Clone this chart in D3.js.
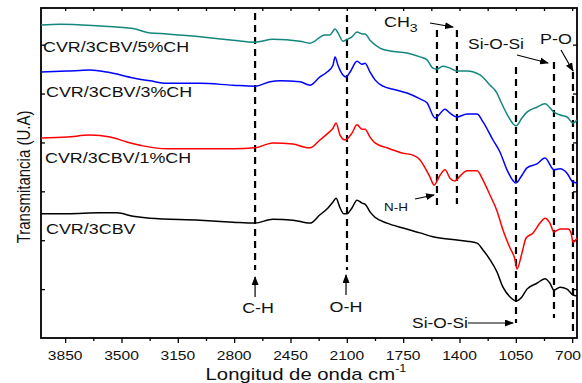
<!DOCTYPE html>
<html>
<head>
<meta charset="utf-8">
<script src="https://cdn.jsdelivr.net/npm/d3@7"></script>
<style>
  body { margin: 0; background: #fff; }
  svg { display: block; font-family: "Liberation Sans", Arial, sans-serif; }
</style>
</head>
<body>
<div id="chart"></div>
<script>
// [wavenumber cm-1, transmittance (U.A, curves stacked)]
const ch5 = [[4000,64.0],[3882,64.2],[3633,63.8],[3428,63.3],[3323,62.4],[3217,62.2],[3012,61.6],[2807,60.9],
  [2670,60.5],[2559,61.1],[2391,60.7],[2329,60.3],[2236,62.0],[2205,62.0],[2173,63.2],[2155,62.4],[2124,60.7],
  [2099,61.1],[2068,61.6],[2037,62.6],[2006,62.2],[1987,62.2],[1956,60.9],[1894,59.3],[1832,58.7],[1726,58.3],
  [1645,57.5],[1602,56.9],[1565,55.2],[1540,55.0],[1503,55.6],[1459,55.2],[1416,54.6],[1353,54.6],[1273,53.8],
  [1210,51.7],[1167,50.1],[1148,48.7],[1105,45.8],[1049,43.4],[1012,45.0],[981,46.2],[919,47.2],[869,47.9],
  [813,46.2],[775,45.6],[732,45.2],[695,44.0],[670,44.6]];
const ch3 = [[4000,54.4],[3838,54.6],[3696,54.8],[3590,54.4],[3428,53.2],[3323,52.6],[3217,52.1],[3012,52.1],
  [2807,51.7],[2670,51.5],[2577,52.4],[2515,52.6],[2391,52.4],[2329,51.7],[2267,53.4],[2223,54.4],[2186,55.8],
  [2173,57.5],[2155,55.8],[2124,53.8],[2105,53.4],[2080,54.4],[2037,56.6],[2006,56.0],[1987,56.2],[1956,54.4],
  [1925,52.8],[1875,51.5],[1813,50.9],[1726,50.1],[1645,48.9],[1602,48.1],[1552,45.0],[1490,46.8],[1459,46.0],
  [1416,45.2],[1353,45.8],[1291,45.8],[1254,44.2],[1192,40.5],[1148,38.0],[1105,34.4],[1049,31.7],[1012,33.3],
  [981,34.8],[919,35.6],[869,36.8],[813,34.4],[775,34.6],[732,33.7],[695,31.9],[670,31.7]];
const ch1 = [[4000,40.9],[3838,41.1],[3696,41.5],[3571,41.1],[3466,40.1],[3366,39.3],[3217,38.7],[3012,38.7],
  [2807,38.7],[2670,38.9],[2559,39.9],[2434,39.7],[2372,39.1],[2329,38.9],[2267,40.5],[2217,41.9],[2186,42.9],
  [2167,44.0],[2142,41.5],[2111,40.5],[2099,40.7],[2068,41.9],[2037,43.6],[2006,42.7],[1987,42.7],[1956,41.1],
  [1925,39.9],[1850,38.9],[1751,37.8],[1689,37.4],[1645,36.4],[1614,34.8],[1583,32.9],[1558,31.3],[1521,33.3],
  [1490,34.4],[1459,32.7],[1428,32.1],[1397,33.1],[1353,34.2],[1291,34.2],[1254,32.3],[1210,29.2],[1167,26.0],
  [1130,22.1],[1086,18.4],[1055,16.0],[1043,14.1],[1012,17.4],[987,20.4],[943,21.5],[900,23.5],[869,24.5],
  [838,23.5],[813,21.7],[775,22.3],[726,22.3],[707,21.5],[695,19.6],[670,20.4]];
const ch0 = [[4000,25.4],[3838,25.4],[3633,25.6],[3528,25.6],[3428,24.9],[3323,24.5],[3012,24.1],[2807,23.7],
  [2670,23.5],[2559,24.3],[2434,24.1],[2329,23.5],[2267,25.2],[2217,26.6],[2186,27.8],[2167,28.6],[2142,26.6],
  [2118,25.4],[2099,25.4],[2068,26.6],[2037,28.2],[2006,27.6],[1987,27.4],[1956,25.8],[1925,24.7],[1850,23.5],
  [1751,22.5],[1645,21.5],[1565,20.7],[1459,20.2],[1353,19.8],[1291,19.4],[1254,18.0],[1210,16.0],[1167,13.5],
  [1130,10.4],[1086,8.4],[1049,7.6],[1012,8.4],[981,10.0],[919,11.2],[869,12.1],[838,11.2],[813,9.8],
  [775,10.4],[732,10.0],[695,8.8],[670,8.6]];

const seriesNames = ["CVR/3CBV/5%CH", "CVR/3CBV/3%CH", "CVR/3CBV/1%CH", "CVR/3CBV"];
const seriesData = [ch5, ch3, ch1, ch0];
const seriesColors = ["#13877e", "#0000ff", "#ff0000", "#000000"];

const xTicks = [3850, 3500, 3150, 2800, 2450, 2100, 1750, 1400, 1050, 700];
const xMinor = [3675, 3325, 2975, 2625, 2275, 1925, 1575, 1225, 875];
const yTicks = [10, 20, 30, 40, 50, 60];
const bands = [2670, 2099, 1540, 1416, 1049, 813, 695];

var W = 582, H = 383;
var svg = d3.select("#chart").append("svg").attr("width", W).attr("height", H);

var x = d3.scaleLinear().domain([4000, 670]).range([41, 577]);
var y = d3.scaleLinear().domain([0, 67.5]).range([338, 8]);

// stretched text helper (the original figure is wider than tall)
function txt(px, py, s, size, anchor, sx) {
    return svg.append("text")
        .attr("transform", "translate(" + px + "," + py + ") scale(" + (sx || 1.28) + ",1)")
        .attr("text-anchor", anchor || "start")
        .style("font-size", size + "px")
        .attr("fill", "#111")
        .text(s);
}

// arrow head
svg.append("defs").append("marker")
    .attr("id", "arr").attr("markerUnits", "userSpaceOnUse")
    .attr("markerWidth", 9).attr("markerHeight", 7)
    .attr("refX", 8).attr("refY", 3.5).attr("orient", "auto")
    .append("path").attr("d", "M0,0 L9,3.5 L0,7 Z").attr("fill", "#000");

// axes
svg.append("g").attr("transform", "translate(0,338)")
    .call(d3.axisBottom(x).tickValues(xTicks).tickSize(5).tickFormat(""));
svg.append("g").attr("transform", "translate(0,338)")
    .call(d3.axisBottom(x).tickValues(xMinor).tickSize(3).tickFormat(""));
svg.append("g").attr("transform", "translate(0,8)")
    .call(d3.axisTop(x).tickValues(xTicks.concat(xMinor)).tickSize(-3).tickFormat(""));
svg.append("g").attr("transform", "translate(41,0)")
    .call(d3.axisLeft(y).tickValues(yTicks).tickSize(-4).tickFormat(""));
svg.append("g").attr("transform", "translate(577,0)")
    .call(d3.axisRight(y).tickValues(yTicks).tickSize(-4).tickFormat(""));
svg.selectAll(".domain").remove();
svg.selectAll(".tick line").attr("stroke", "#000").attr("stroke-width", 1.3);

svg.append("rect").attr("x", 41).attr("y", 8).attr("width", 536).attr("height", 330)
    .attr("fill", "none").attr("stroke", "#000").attr("stroke-width", 1.8);

xTicks.forEach(function (t) {
    // last label sits against the right edge, like the original
    if (t === 700) txt(581, 360, t, 13, "end", 1.2);
    else txt(x(t), 360, t, 13, "middle", 1.2);
});

// axis titles
var xl = svg.append("text")
    .attr("transform", "translate(306,380) scale(1.27,1)")
    .attr("text-anchor", "middle").style("font-size", "16px").attr("fill", "#111");
xl.append("tspan").text("Longitud de onda cm");
xl.append("tspan").attr("dy", -8).style("font-size", "10px").text("-1");

svg.append("text")
    .attr("transform", "translate(30,177) scale(1.28,1) rotate(-90)")
    .attr("text-anchor", "middle").style("font-size", "15px").attr("fill", "#111")
    .text("Transmitancia (U.A)");

// band markers
var bandTop = [13, 15, 30, 30, 67, 62, 72];
var bandBottom = [270, 270, 205, 204, 323, 318, 333];
svg.selectAll(".band").data(bands).enter().append("line")
    .attr("class", "band")
    .attr("x1", function (d) { return x(d); })
    .attr("x2", function (d) { return x(d); })
    .attr("y1", function (d, i) { return bandTop[i]; })
    .attr("y2", function (d, i) { return bandBottom[i]; })
    .attr("stroke", "#000").attr("stroke-width", 2.2)
    .attr("stroke-dasharray", "7,5");

// spectra
var line = d3.line()
    .x(function (d) { return x(d[0]); })
    .y(function (d) { return y(d[1]); })
    .curve(d3.curveMonotoneX);

seriesData.forEach(function (s, i) {
    svg.append("path").datum(s)
        .attr("d", line)
        .attr("fill", "none")
        .attr("stroke", seriesColors[i])
        .attr("stroke-width", 1.5);
});

// curve labels
var labelPos = [[43, 52], [46, 97], [45, 163], [46, 234]];
seriesNames.forEach(function (n, i) {
    txt(labelPos[i][0], labelPos[i][1], n, 14, "start", 1.28);
});

// annotations
function arrow(x1, y1, x2, y2) {
    svg.append("line").attr("x1", x1).attr("y1", y1).attr("x2", x2).attr("y2", y2)
        .attr("stroke", "#000").attr("stroke-width", 1.2).attr("marker-end", "url(#arr)");
}

txt(x(2670) + 3, 313, "C-H", 14, "middle");
arrow(x(2670), 297, x(2670), 277);
txt(x(2099) - 1, 312, "O-H", 14, "middle");
arrow(x(2105), 295, x(2105), 275);

var ch = txt(384, 27, "CH", 14, "start");
ch.append("tspan").attr("dy", 5).style("font-size", "11px").text("3");
arrow(430, 23, 453, 27);

txt(396, 211, "N-H", 10.5, "middle");
arrow(415, 199, 434, 195);

txt(496, 49, "Si-O-Si", 14, "middle", 1.24);
arrow(517, 55, 548, 63);

txt(556, 44, "P-O", 14, "middle");
arrow(561, 50, 573, 71);

txt(440, 328, "Si-O-Si", 14, "middle", 1.24);
arrow(468, 323, 513, 323);
</script>
</body>
</html>
